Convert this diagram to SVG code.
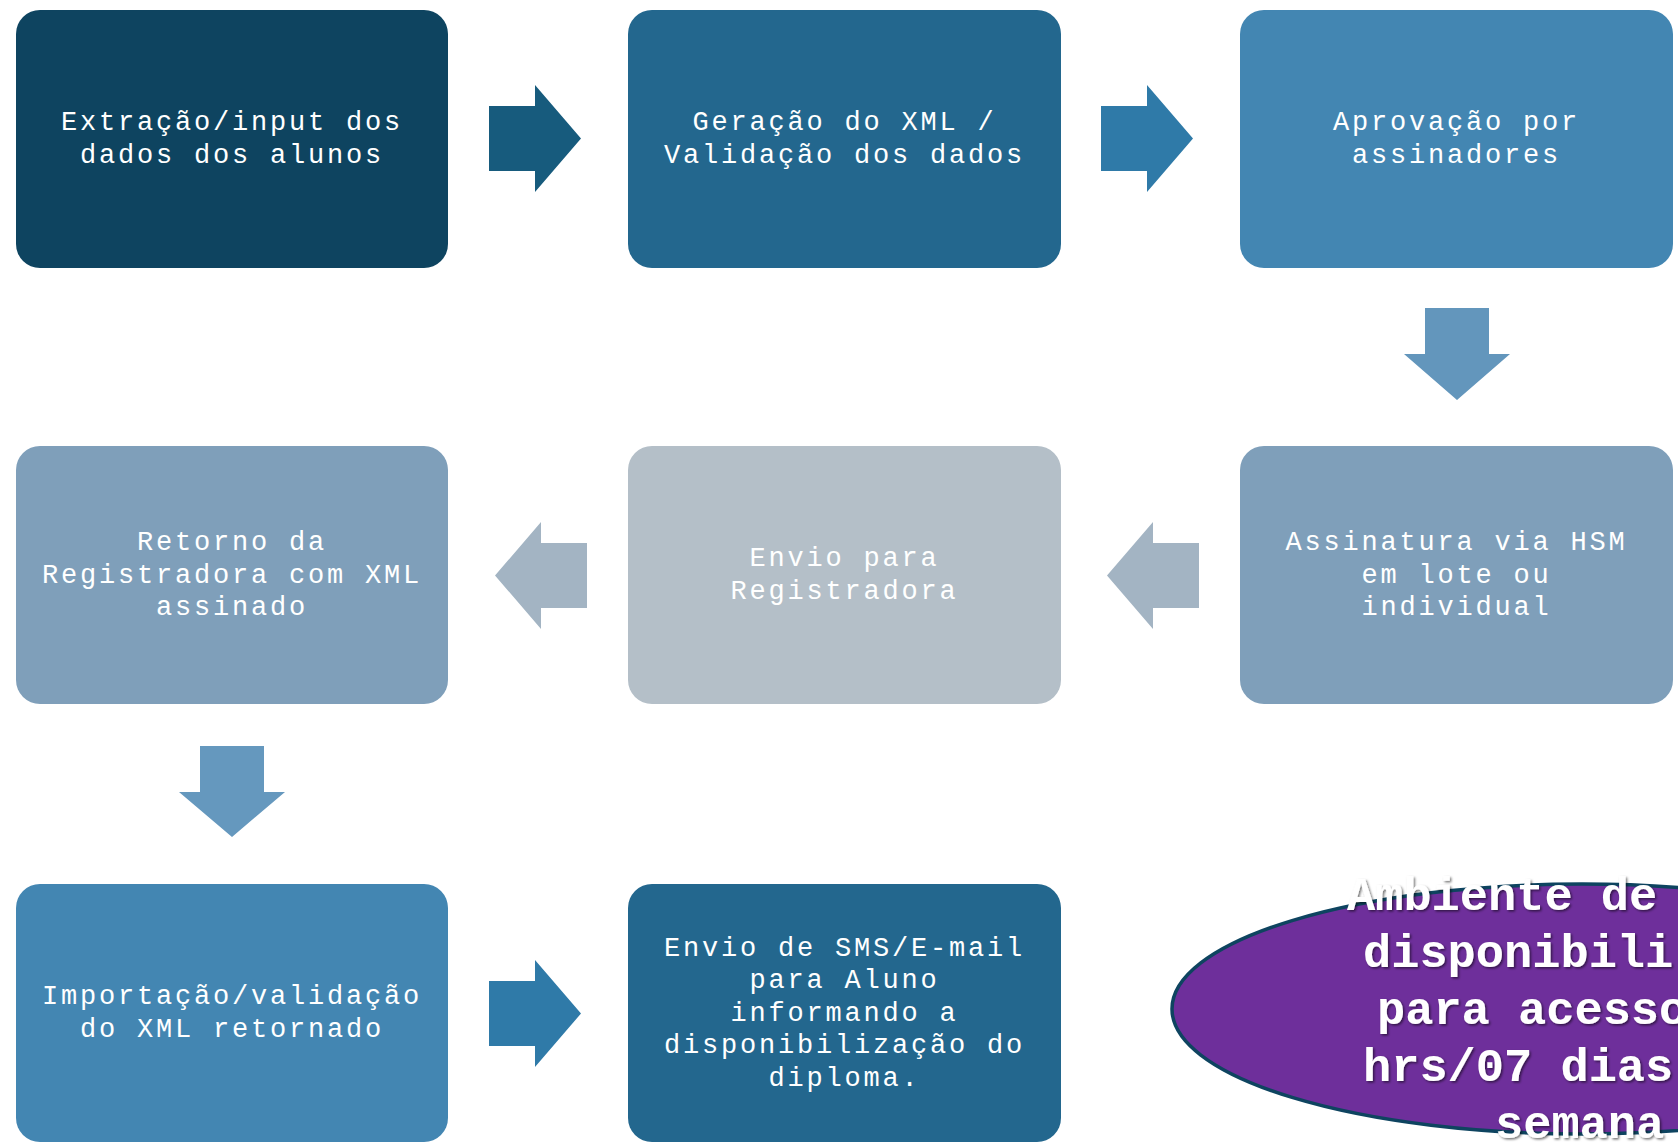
<svg xmlns="http://www.w3.org/2000/svg" width="1678" height="1145" viewBox="0 0 1678 1145">
  <defs>
    <style>
      .box { stroke: none; }
      .t { font-family: "Liberation Mono", "Courier New", monospace; font-size: 27px; letter-spacing: 2.8px; fill: #ffffff; text-anchor: middle; }
      .et { font-family: "Liberation Mono", "Courier New", monospace; font-size: 47px; font-weight: bold; fill: #ffffff; filter: url(#sh); }
    </style>
    <filter id="sh" x="-10%" y="-30%" width="120%" height="160%">
      <feDropShadow dx="1.5" dy="1.5" stdDeviation="1.2" flood-color="#000000" flood-opacity="0.55"/>
    </filter>
  </defs>
  <rect width="1678" height="1145" fill="#ffffff"/>

  <g id="connectors">
    <polygon fill="#175B7D" points="489,106 535,106 535,85 581,138.5 535,192 535,171 489,171"/>
    <polygon fill="#2F7AA8" points="1101,106 1147,106 1147,85 1193,138.5 1147,192 1147,171 1101,171"/>
    <polygon fill="#6396BC" points="1425,308 1489,308 1489,354 1510,354 1457,400 1404,354 1425,354"/>
    <polygon fill="#A3B4C3" points="1199,543 1153,543 1153,522 1107,575.5 1153,629 1153,608 1199,608"/>
    <polygon fill="#A3B4C3" points="587,543 541,543 541,522 495,575.5 541,629 541,608 587,608"/>
    <polygon fill="#6598BE" points="200,746 264,746 264,792 285,792 232,837 179,792 200,792"/>
    <polygon fill="#2F7AA8" points="489,981 535,981 535,960 581,1013.5 535,1067 535,1046 489,1046"/>
  </g>

  <g id="n1">
    <rect class="box" x="16" y="10" width="432" height="258" rx="24" fill="#0E4460"/>
    <text class="t" x="232" y="130"><tspan x="232">Extração/input dos</tspan><tspan x="232" dy="32.6">dados dos alunos</tspan></text>
  </g>
  <g id="n2">
    <rect class="box" x="628" y="10" width="433" height="258" rx="24" fill="#23678E"/>
    <text class="t" x="844.5" y="130"><tspan x="844.5">Geração do XML /</tspan><tspan x="844.5" dy="32.6">Validação dos dados</tspan></text>
  </g>
  <g id="n3">
    <rect class="box" x="1240" y="10" width="433" height="258" rx="24" fill="#4386B2"/>
    <text class="t" x="1456.5" y="130"><tspan x="1456.5">Aprovação por</tspan><tspan x="1456.5" dy="32.6">assinadores</tspan></text>
  </g>
  <g id="n4">
    <rect class="box" x="1240" y="446" width="433" height="258" rx="24" fill="#7F9FBA"/>
    <text class="t" x="1456.5" y="550"><tspan x="1456.5">Assinatura via HSM</tspan><tspan x="1456.5" dy="32.6">em lote ou</tspan><tspan x="1456.5" dy="32.6">individual</tspan></text>
  </g>
  <g id="n5">
    <rect class="box" x="628" y="446" width="433" height="258" rx="24" fill="#B4BFC8"/>
    <text class="t" x="844.5" y="566"><tspan x="844.5">Envio para</tspan><tspan x="844.5" dy="32.6">Registradora</tspan></text>
  </g>
  <g id="n6">
    <rect class="box" x="16" y="446" width="432" height="258" rx="24" fill="#7F9FBA"/>
    <text class="t" x="232" y="550"><tspan x="232">Retorno da</tspan><tspan x="232" dy="32.6">Registradora com XML</tspan><tspan x="232" dy="32.6">assinado</tspan></text>
  </g>
  <g id="n7">
    <rect class="box" x="16" y="884" width="432" height="258" rx="24" fill="#4386B2"/>
    <text class="t" x="232" y="1004"><tspan x="232">Importação/validação</tspan><tspan x="232" dy="32.6">do XML retornado</tspan></text>
  </g>
  <g id="n8">
    <rect class="box" x="628" y="884" width="433" height="258" rx="24" fill="#23678E"/>
    <text class="t" x="844.5" y="955.5"><tspan x="844.5">Envio de SMS/E-mail</tspan><tspan x="844.5" dy="32.6">para Aluno</tspan><tspan x="844.5" dy="32.6">informando a</tspan><tspan x="844.5" dy="32.6">disponibilização do</tspan><tspan x="844.5" dy="32.6">diploma.</tspan></text>
  </g>
  <g id="n9">
    <ellipse cx="1582" cy="1009" rx="410" ry="125" fill="#6E2F9B" stroke="#0E4460" stroke-width="3.5"/>
    <text class="et" x="1347" y="910">Ambiente de</text>
    <text class="et" x="1363" y="967">disponibili</text>
    <text class="et" x="1377" y="1024">para acesso</text>
    <text class="et" x="1363" y="1081">hrs/07 dias</text>
    <text class="et" x="1495" y="1138">semana</text>
  </g>
</svg>
